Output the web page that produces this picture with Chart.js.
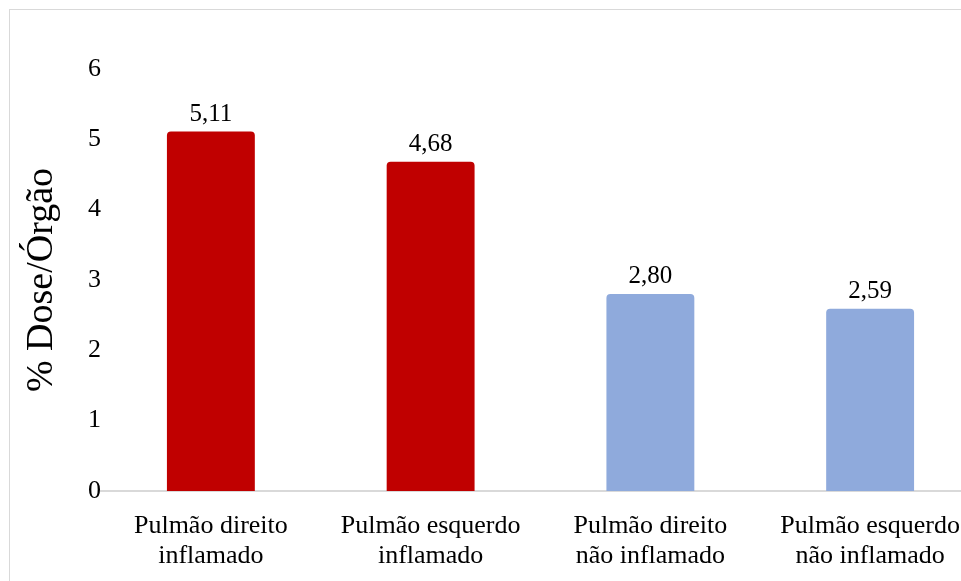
<!DOCTYPE html>
<html>
<head>
<meta charset="utf-8">
<script src="https://cdn.jsdelivr.net/npm/chart.js@4"></script>
<style>
  html, body { margin: 0; padding: 0; overflow: hidden; background: #fff; }
  #frame {
    position: absolute; left: 9px; top: 9px;
    width: 2000px; height: 2000px;
    border: 1px solid #d9d9d9;
  }
  #wrap { position: absolute; left: 0; top: 0; width: 1000px; height: 581px; }
</style>
</head>
<body>
<div id="frame"></div>
<div id="wrap"><canvas id="doseChart" width="1000" height="581"></canvas></div>
<script>
const categories = [
  ["Pulmão direito", "inflamado"],
  ["Pulmão esquerdo", "inflamado"],
  ["Pulmão direito", "não inflamado"],
  ["Pulmão esquerdo", "não inflamado"],
];
const doseValues = [5.11, 4.68, 2.8, 2.59];
const barColors = ["#C00000", "#C00000", "#8FAADC", "#8FAADC"];
const yTicks = [0, 1, 2, 3, 4, 5, 6];

const serif = '"Liberation Serif", "DejaVu Serif", serif';

// write the value above each bar, with a decimal comma
const valueLabels = {
  id: "valueLabels",
  afterDatasetsDraw(chart) {
    const ctx = chart.ctx;
    const meta = chart.getDatasetMeta(0);
    ctx.save();
    ctx.font = "25px " + serif;
    ctx.fillStyle = "#000";
    ctx.textAlign = "center";
    ctx.textBaseline = "alphabetic";
    meta.data.forEach((bar, i) => {
      const text = doseValues[i].toFixed(2).replace(".", ",");
      ctx.fillText(text, bar.x, bar.y - 11);
    });
    ctx.restore();
  },
};

const chart = new Chart(document.getElementById("doseChart"), {
  type: "bar",
  data: {
    labels: categories,
    datasets: [
      {
        data: doseValues,
        backgroundColor: barColors,
        borderRadius: 4,
        barPercentage: 0.4,
        categoryPercentage: 1,
      },
    ],
  },
  options: {
    responsive: false,
    animation: false,
    layout: { padding: { top: 69, right: 20, left: 0, bottom: 0 } },
    plugins: {
      legend: { display: false },
      tooltip: { enabled: false },
    },
    scales: {
      x: {
        grid: { display: false, drawTicks: false },
        border: { display: true, color: "#d9d9d9", width: 2 },
        ticks: {
          color: "#000",
          padding: 20,
          maxRotation: 0,
          font: { family: serif, size: 26, lineHeight: 1.15 },
        },
        afterFit: (scale) => {
          scale.height = 90;
        },
      },
      y: {
        min: 0,
        max: 6,
        afterBuildTicks: (scale) => {
          scale.ticks = yTicks.map((v) => ({ value: v }));
        },
        grid: { display: false, drawTicks: false },
        border: { display: false },
        ticks: {
          color: "#000",
          padding: 0,
          font: { family: serif, size: 26 },
        },
        title: {
          display: true,
          text: "% Dose/Órgão",
          color: "#000",
          padding: { top: 19, bottom: 0 },
          font: { family: serif, size: 38, lineHeight: 1.2 },
        },
        afterFit: (scale) => {
          scale.width = 101;
        },
      },
    },
  },
  plugins: [valueLabels],
});
</script>
</body>
</html>
